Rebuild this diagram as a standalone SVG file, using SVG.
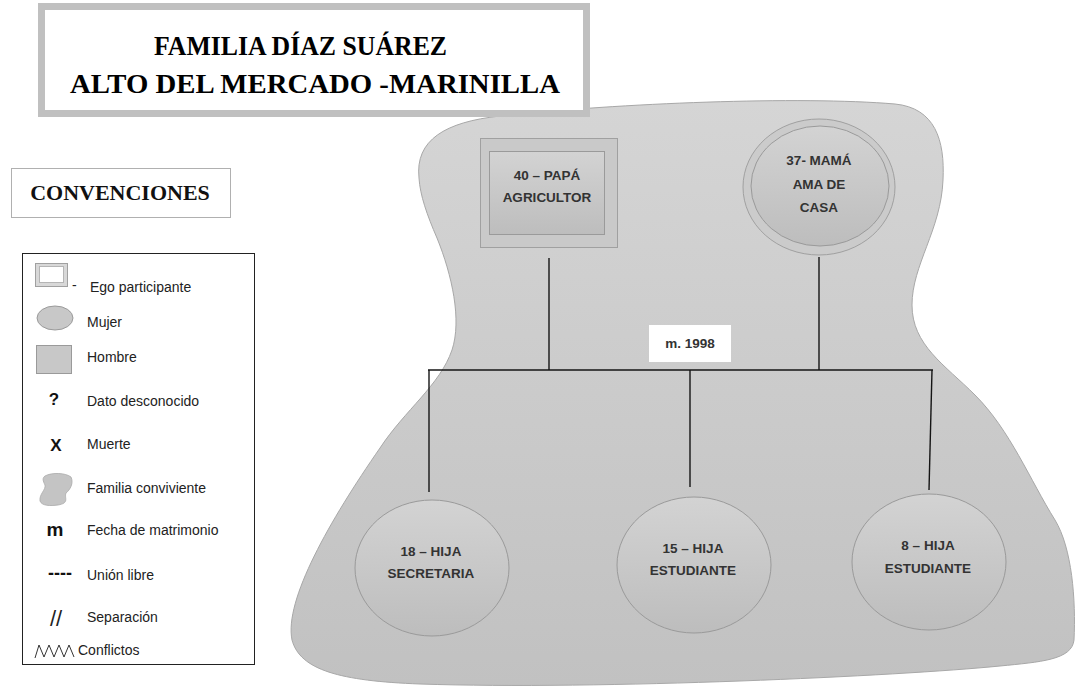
<svg xmlns="http://www.w3.org/2000/svg" width="1075" height="686" viewBox="0 0 1075 686">
<defs>
<linearGradient id="gBlob" x1="0" y1="0" x2="0" y2="1"><stop offset="0" stop-color="#d5d5d5"/><stop offset="1" stop-color="#c1c1c1"/></linearGradient>
<linearGradient id="gNode" x1="0" y1="0" x2="0" y2="1"><stop offset="0" stop-color="#d3d3d3"/><stop offset="1" stop-color="#bdbdbd"/></linearGradient>
<style>
.title{font-family:"Liberation Serif","Times New Roman",serif;font-size:27px;font-weight:bold;fill:#000}
.conv{font-family:"Liberation Serif","Times New Roman",serif;font-size:22px;font-weight:bold;fill:#111;text-anchor:middle}
.lg{font-family:"Liberation Sans",Arial,sans-serif;font-size:14px;fill:#222}
.sym{font-family:"Liberation Sans",Arial,sans-serif;font-weight:bold;fill:#111;text-anchor:middle}
.nt{font-family:"Liberation Sans",Arial,sans-serif;font-size:13.5px;font-weight:bold;fill:#333;text-anchor:middle}
.node{fill:url(#gNode);stroke:#9a9a9a;stroke-width:1}
.conn{stroke:#151515;stroke-width:1.4;fill:none}
</style>
</defs>
<rect width="1075" height="686" fill="#fff"/>

<g id="family-blob">
<path d="M 419 178 C 415 140 445 122 500 116 C 620 103 800 96 895 104 C 935 108 945 140 943 180 C 941 230 912 265 912 305 C 912 345 945 365 975 395 C 1010 430 1030 480 1055 520 C 1072 548 1076 600 1074 640 C 1072 660 1040 662 1000 666 C 900 676 600 690 420 684 C 340 681 300 670 292 640 C 284 600 330 520 380 448 C 405 410 440 385 452 350 C 462 320 452 275 437 238 C 427 215 420 195 419 178 Z" fill="url(#gBlob)" stroke="#a8a8a8" stroke-width="1"/>
</g>

<g id="title">
<rect x="41.5" y="6.5" width="545" height="107" fill="#fff" stroke="#c0c0c0" stroke-width="7"/>
<text class="title" x="154" y="55" textLength="293" lengthAdjust="spacingAndGlyphs">FAMILIA DÍAZ SUÁREZ</text>
<text class="title" x="70" y="93" textLength="490" lengthAdjust="spacingAndGlyphs">ALTO DEL MERCADO -MARINILLA</text>
</g>

<g id="convenciones">
<rect x="11.5" y="168.5" width="219" height="49" fill="#fff" stroke="#b0b0b0" stroke-width="1"/>
<text class="conv" x="120" y="200">CONVENCIONES</text>
</g>

<g id="legend">
<rect x="22.5" y="253.5" width="232" height="411" fill="#fff" stroke="#222" stroke-width="1"/>
<rect x="35.5" y="263.5" width="32" height="23" fill="#d8d8d8" stroke="#a0a0a0" stroke-width="1"/>
<rect x="39.5" y="266.5" width="24" height="16" fill="#fff" stroke="#b5b5b5" stroke-width="1"/>
<text class="lg" x="72" y="290">-</text>
<text class="lg" x="90" y="292">Ego participante</text>
<ellipse cx="55" cy="318" rx="18" ry="12" fill="#c8c8c8" stroke="#9a9a9a"/>
<text class="lg" x="87" y="327">Mujer</text>
<rect x="36.5" y="345.5" width="35" height="28" fill="#c8c8c8" stroke="#9a9a9a"/>
<text class="lg" x="87" y="362">Hombre</text>
<text class="sym" x="54" y="405" font-size="17">?</text>
<text class="lg" x="87" y="406">Dato desconocido</text>
<text class="sym" x="56" y="451" font-size="17">X</text>
<text class="lg" x="87" y="449">Muerte</text>
<path d="M 45 476 C 52 472 66 473 71 477 C 74 483 70 490 66 493 C 64 498 70 503 58 505 C 50 506 42 506 40 501 C 39 494 46 490 45 485 C 43 481 42 478 45 476 Z" fill="#c4c4c4" stroke="#aaa" stroke-width="0.8"/>
<text class="lg" x="87" y="493">Familia conviviente</text>
<text class="sym" x="55" y="536" font-size="19">m</text>
<text class="lg" x="87" y="535">Fecha de matrimonio</text>
<text class="sym" x="60" y="579" font-size="18">----</text>
<text class="lg" x="87" y="580">Unión libre</text>
<text class="lg" x="56" y="626" style="font-size:22px" text-anchor="middle">//</text>
<text class="lg" x="87" y="622">Separación</text>
<polyline points="35,658 39,645 44,657 49,645 54,657 59,645 64,657 69,645 74,657" fill="none" stroke="#333" stroke-width="1"/>
<text class="lg" x="78" y="655">Conflictos</text>
</g>

<g id="connectors">
<line class="conn" x1="549" y1="258" x2="549" y2="370"/>
<line class="conn" x1="819" y1="257" x2="819" y2="370"/>
<line class="conn" x1="428" y1="370" x2="933" y2="370"/>
<line class="conn" x1="429" y1="370" x2="429" y2="492"/>
<line class="conn" x1="690" y1="370" x2="690" y2="487"/>
<line class="conn" x1="932" y1="370" x2="929" y2="490"/>
</g>

<g id="m1998">
<rect x="649" y="325" width="82" height="37" fill="#fff"/>
<text class="nt" x="690" y="348">m. 1998</text>
</g>

<g id="papa">
<rect x="480.5" y="138.5" width="137" height="109" fill="#c9c9c9" stroke="#a0a0a0"/>
<rect x="489.5" y="151.5" width="115" height="83" class="node"/>
<text class="nt" x="547" y="180">40 – PAPÁ</text>
<text class="nt" x="547" y="202">AGRICULTOR</text>
</g>

<g id="mama">
<ellipse cx="819" cy="187" rx="76" ry="68" fill="#cbcbcb" stroke="#a0a0a0"/>
<ellipse cx="820" cy="186" rx="69" ry="60" class="node"/>
<text class="nt" x="819" y="165">37- MAMÁ</text>
<text class="nt" x="819" y="189">AMA DE</text>
<text class="nt" x="819" y="212">CASA</text>
</g>

<g id="hija18">
<ellipse cx="432" cy="568" rx="77" ry="68" class="node"/>
<text class="nt" x="431" y="556">18 – HIJA</text>
<text class="nt" x="431" y="578">SECRETARIA</text>
</g>

<g id="hija15">
<ellipse cx="694" cy="565" rx="77" ry="68" class="node"/>
<text class="nt" x="693" y="553">15 – HIJA</text>
<text class="nt" x="693" y="575">ESTUDIANTE</text>
</g>

<g id="hija8">
<ellipse cx="929" cy="562" rx="77" ry="68" class="node"/>
<text class="nt" x="928" y="550">8 – HIJA</text>
<text class="nt" x="928" y="573">ESTUDIANTE</text>
</g>
</svg>
